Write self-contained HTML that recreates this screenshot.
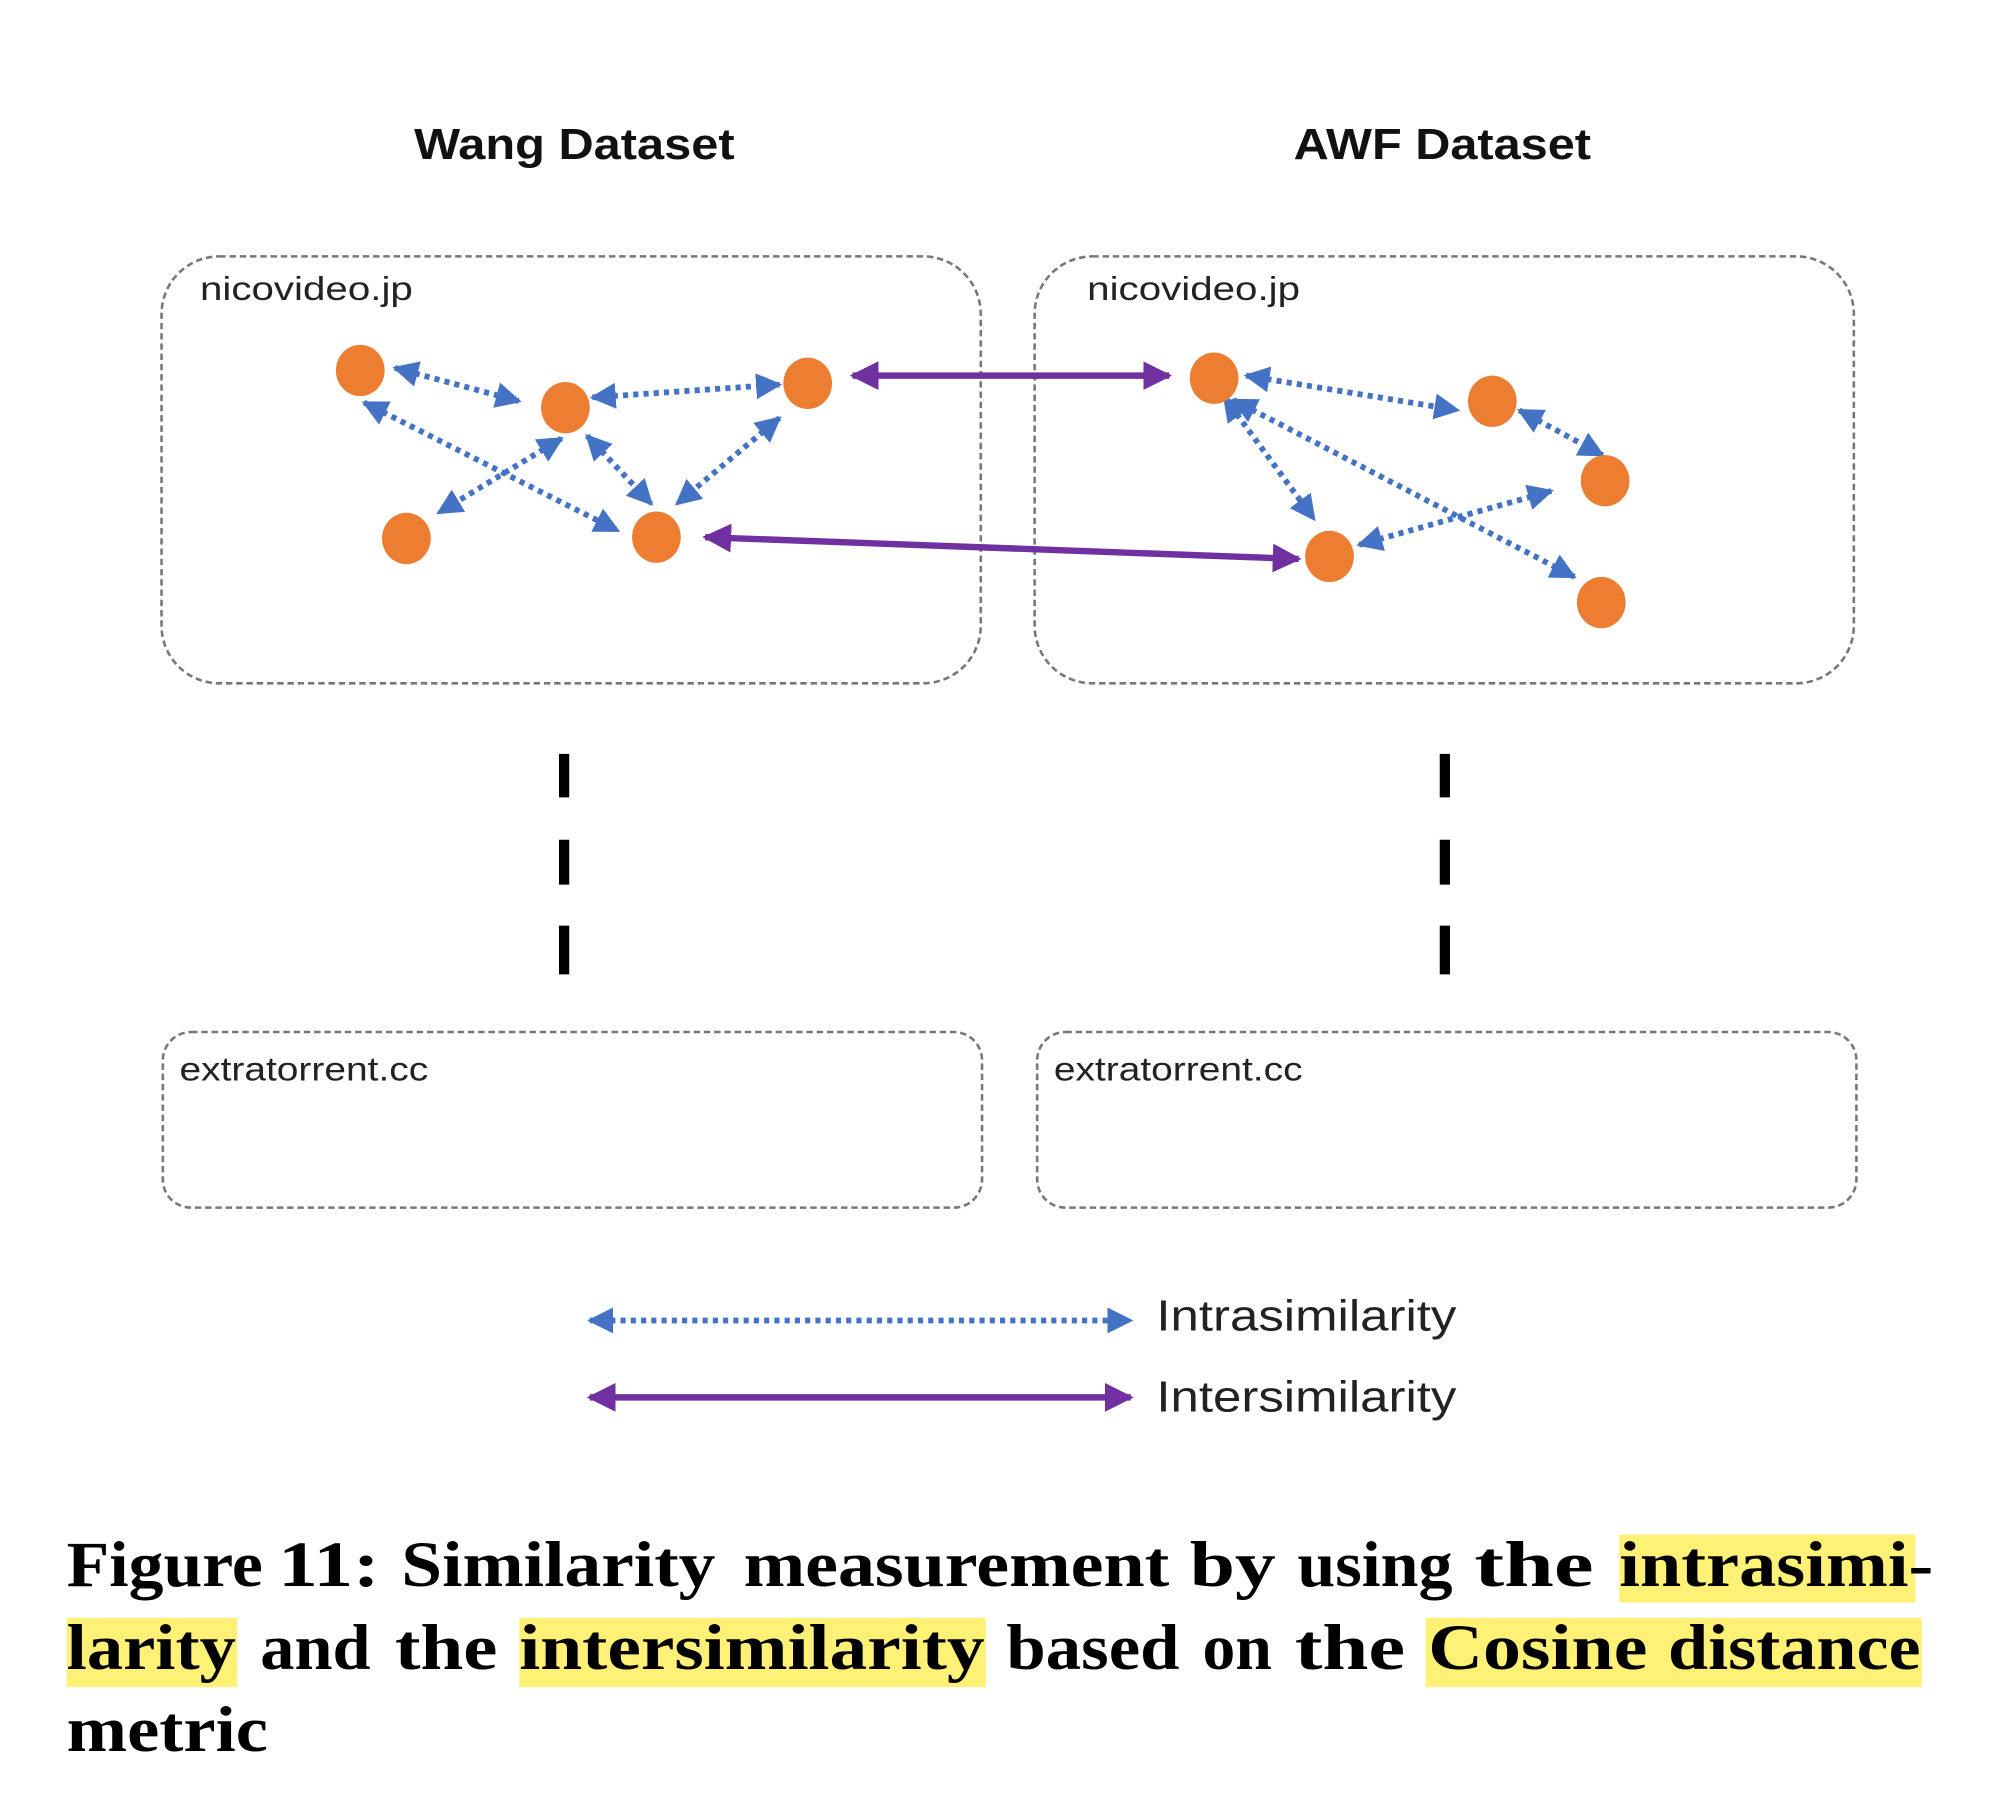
<!DOCTYPE html>
<html><head><meta charset="utf-8"><style>
html,body{margin:0;padding:0;background:#fff;}
svg{display:block;}
</style></head><body>
<svg width="2000" height="1798" viewBox="0 0 1560 1402.5" preserveAspectRatio="none" xmlns="http://www.w3.org/2000/svg">
<defs>
<marker id="bh" viewBox="0 0 10 10" refX="9" refY="5" markerWidth="4.5" markerHeight="4.5" orient="auto-start-reverse" markerUnits="strokeWidth"><path d="M0,0 L10,5 L0,10 z" fill="#4472C4"/></marker>
<marker id="ph" viewBox="0 0 10 10" refX="9" refY="5" markerWidth="4.5" markerHeight="4.5" orient="auto-start-reverse" markerUnits="strokeWidth"><path d="M0,0 L10,5 L0,10 z" fill="#7030A0"/></marker>
</defs>
<rect width="1560" height="1402.5" fill="#fff"/>
<g font-family="'Liberation Sans',sans-serif" font-weight="bold" font-size="34" fill="#111" text-anchor="middle">
<text x="448" y="124" textLength="250" lengthAdjust="spacingAndGlyphs">Wang Dataset</text>
<text x="1125" y="124" textLength="232" lengthAdjust="spacingAndGlyphs">AWF Dataset</text>
</g>
<g fill="none" stroke="#777" stroke-width="2" stroke-dasharray="5 3">
<rect x="126" y="200" width="639" height="333" rx="45"/>
<rect x="807" y="200" width="639" height="333" rx="45"/>
<rect x="127" y="805" width="639" height="137" rx="22"/>
<rect x="809" y="805" width="639" height="137" rx="22"/>
</g>
<g font-family="'Liberation Sans',sans-serif" font-size="26" fill="#222">
<text x="156" y="234" textLength="166" lengthAdjust="spacingAndGlyphs">nicovideo.jp</text>
<text x="848" y="234" textLength="166" lengthAdjust="spacingAndGlyphs">nicovideo.jp</text>
<text x="140" y="843" textLength="194" lengthAdjust="spacingAndGlyphs">extratorrent.cc</text>
<text x="822" y="843" textLength="194" lengthAdjust="spacingAndGlyphs">extratorrent.cc</text>
</g>
<g stroke="#000" stroke-width="8">
<line x1="440" y1="588" x2="440" y2="622"/><line x1="440" y1="655" x2="440" y2="690"/><line x1="440" y1="722" x2="440" y2="760"/>
<line x1="1127" y1="588" x2="1127" y2="622"/><line x1="1127" y1="655" x2="1127" y2="690"/><line x1="1127" y1="722" x2="1127" y2="760"/>
</g>
<g stroke="#4472C4" stroke-width="4.5" stroke-dasharray="4 4" fill="none" marker-start="url(#bh)" marker-end="url(#bh)">
<line x1="308" y1="287" x2="405" y2="313"/>
<line x1="462" y1="310" x2="608" y2="300"/>
<line x1="284" y1="314" x2="482" y2="414"/>
<line x1="438" y1="342" x2="342" y2="400"/>
<line x1="458" y1="340" x2="508" y2="393"/>
<line x1="608" y1="326" x2="528" y2="393"/>
<line x1="972" y1="293" x2="1137" y2="320"/>
<line x1="1185" y1="320" x2="1250" y2="355"/>
<line x1="955" y1="310" x2="1025" y2="405"/>
<line x1="962" y1="312" x2="1228" y2="450"/>
<line x1="1060" y1="425" x2="1210" y2="383"/>
<line x1="460" y1="1030" x2="882" y2="1030"/>
</g>
<g stroke="#7030A0" stroke-width="5" fill="none" marker-start="url(#ph)" marker-end="url(#ph)">
<line x1="665" y1="293" x2="912" y2="293"/>
<line x1="550" y1="419" x2="1013" y2="436"/>
<line x1="460" y1="1090" x2="882" y2="1090"/>
</g>
<g fill="#ED7D31">
<ellipse cx="281" cy="289" rx="19" ry="20"/><ellipse cx="441" cy="318" rx="19" ry="20"/><ellipse cx="630" cy="299" rx="19" ry="20"/><ellipse cx="317" cy="420" rx="19" ry="20"/><ellipse cx="512" cy="419" rx="19" ry="20"/>
<ellipse cx="947" cy="295" rx="19" ry="20"/><ellipse cx="1164" cy="313" rx="19" ry="20"/><ellipse cx="1252" cy="375" rx="19" ry="20"/><ellipse cx="1037" cy="434" rx="19" ry="20"/><ellipse cx="1249" cy="470" rx="19" ry="20"/>
</g>
<g font-family="'Liberation Sans',sans-serif" font-size="34" fill="#222">
<text x="902" y="1038" textLength="234" lengthAdjust="spacingAndGlyphs">Intrasimilarity</text>
<text x="902" y="1101" textLength="234" lengthAdjust="spacingAndGlyphs">Intersimilarity</text>
</g>
<g fill="#FFF176">
<rect x="1263" y="1197" width="231" height="53"/>
<rect x="52" y="1262" width="133" height="54"/>
<rect x="405" y="1262" width="364" height="54"/>
<rect x="1112" y="1262" width="387" height="54"/>
</g>
<g font-family="'Liberation Serif',serif" font-weight="bold" font-size="50" fill="#000">
<text x="52" y="1237" textLength="153" lengthAdjust="spacingAndGlyphs">Figure</text>
<text x="217" y="1237" textLength="79" lengthAdjust="spacingAndGlyphs">11:</text>
<text x="313" y="1237" textLength="245" lengthAdjust="spacingAndGlyphs">Similarity</text>
<text x="580" y="1237" textLength="332" lengthAdjust="spacingAndGlyphs">measurement</text>
<text x="928" y="1237" textLength="67" lengthAdjust="spacingAndGlyphs">by</text>
<text x="1012" y="1237" textLength="121" lengthAdjust="spacingAndGlyphs">using</text>
<text x="1150" y="1237" textLength="93" lengthAdjust="spacingAndGlyphs">the</text>
<text x="1263" y="1237" textLength="245" lengthAdjust="spacingAndGlyphs">intrasimi-</text>
<text x="52" y="1302" textLength="132" lengthAdjust="spacingAndGlyphs">larity</text>
<text x="203" y="1302" textLength="86" lengthAdjust="spacingAndGlyphs">and</text>
<text x="308" y="1302" textLength="80" lengthAdjust="spacingAndGlyphs">the</text>
<text x="405" y="1302" textLength="363" lengthAdjust="spacingAndGlyphs">intersimilarity</text>
<text x="785" y="1302" textLength="135" lengthAdjust="spacingAndGlyphs">based</text>
<text x="938" y="1302" textLength="54" lengthAdjust="spacingAndGlyphs">on</text>
<text x="1010" y="1302" textLength="86" lengthAdjust="spacingAndGlyphs">the</text>
<text x="1114" y="1302" textLength="171" lengthAdjust="spacingAndGlyphs">Cosine</text>
<text x="1301" y="1302" textLength="197" lengthAdjust="spacingAndGlyphs">distance</text>
<text x="52" y="1366" textLength="157" lengthAdjust="spacingAndGlyphs">metric</text>
</g>
</svg>
</body></html>
